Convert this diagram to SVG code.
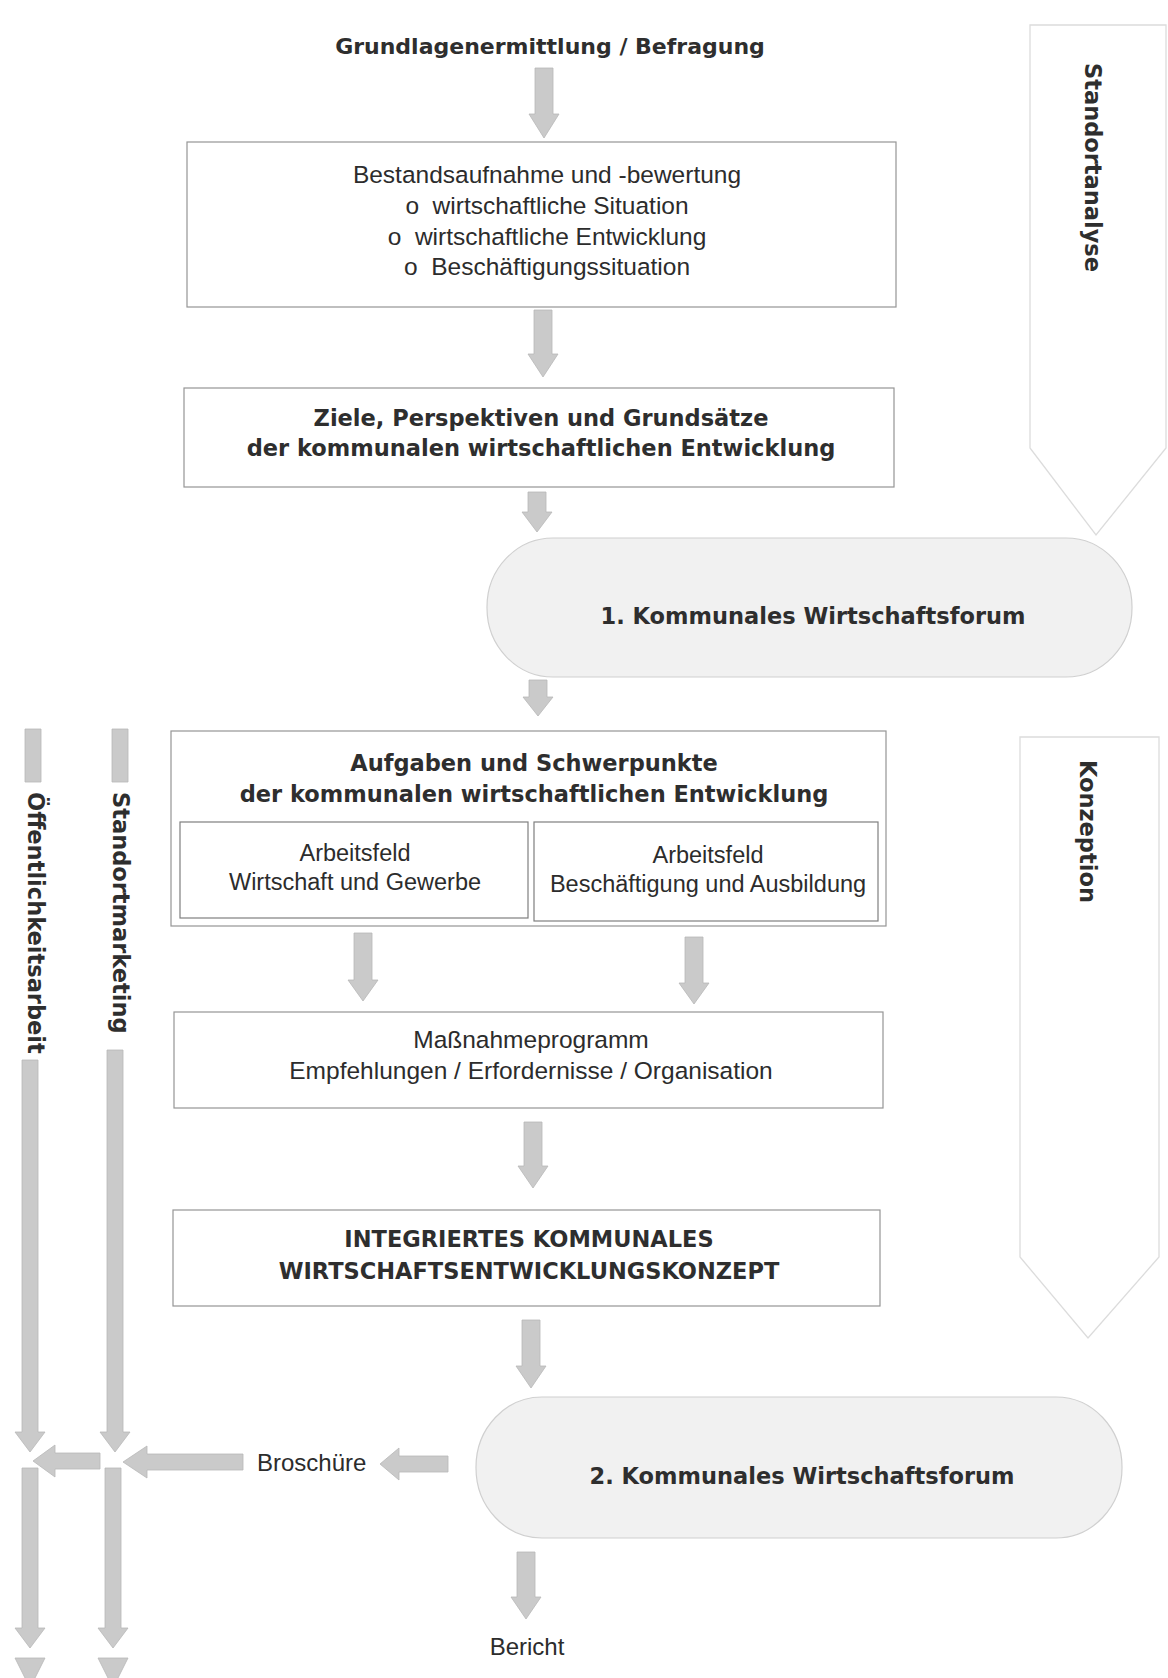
<svg xmlns="http://www.w3.org/2000/svg" width="1168" height="1678" viewBox="0 0 1168 1678">
<style>
.b{font-family:"DejaVu Sans","Liberation Sans",sans-serif;font-weight:bold;font-size:22.5px;fill:#2e2e2e}
.r{font-family:"Liberation Sans","Noto Sans",sans-serif;font-size:24.5px;fill:#2c2c2c}
.rs{font-family:"Liberation Sans","Noto Sans",sans-serif;font-size:23.5px;fill:#2c2c2c}
.c{text-anchor:middle}
.box{fill:#fff;stroke:#959595;stroke-width:1.2}
.inner{fill:#fff;stroke:#7f7f7f;stroke-width:1.2}
.pill{fill:#f1f1f1;stroke:#d0d0d0;stroke-width:1.2}
.band{fill:#fff;stroke:#dcdcdc;stroke-width:1.3}
.arr{fill:#cacaca;stroke:#b8b8b8;stroke-width:0.8}
</style>
<rect width="1168" height="1678" fill="#fff"/>

<g id="band-standortanalyse">
<polygon class="band" points="1030,25 1166,25 1166,448 1096,535 1030,448"/>
<text class="b" transform="translate(1085,63) rotate(90)">Standortanalyse</text>
</g>
<g id="band-konzeption">
<polygon class="band" points="1020,737 1159,737 1159,1257 1088,1338 1020,1257"/>
<text class="b" transform="translate(1080,760) rotate(90)">Konzeption</text>
</g>

<g id="title">
<text class="b c" x="550" y="54" style="font-size:22px">Grundlagenermittlung / Befragung</text>
</g>

<g id="bestandsaufnahme">
<rect class="box" x="187" y="142" width="709" height="165"/>
<text class="r c" x="547" y="183">Bestandsaufnahme und -bewertung</text>
<text class="r c" x="547" y="214" xml:space="preserve">o  wirtschaftliche Situation</text>
<text class="r c" x="547" y="245" xml:space="preserve">o  wirtschaftliche Entwicklung</text>
<text class="r c" x="547" y="275" xml:space="preserve">o  Beschäftigungssituation</text>
</g>

<g id="ziele">
<rect class="box" x="184" y="388" width="710" height="99"/>
<text class="b c" x="541" y="426">Ziele, Perspektiven und Grundsätze</text>
<text class="b c" x="541" y="456">der kommunalen wirtschaftlichen Entwicklung</text>
</g>

<g id="forum1">
<rect class="pill" x="487" y="538" width="645" height="139" rx="66" ry="69"/>
<text class="b c" x="813" y="624">1. Kommunales Wirtschaftsforum</text>
</g>

<g id="aufgaben">
<rect class="box" x="171" y="731" width="715" height="195"/>
<text class="b c" x="534" y="771">Aufgaben und Schwerpunkte</text>
<text class="b c" x="534" y="802">der kommunalen wirtschaftlichen Entwicklung</text>
</g>
<g id="arbeitsfeld-wirtschaft">
<rect class="inner" x="180" y="822" width="348" height="96"/>
<text class="rs c" x="355" y="861">Arbeitsfeld</text>
<text class="rs c" x="355" y="890">Wirtschaft und Gewerbe</text>
</g>
<g id="arbeitsfeld-beschaeftigung">
<rect class="inner" x="534" y="822" width="344" height="99"/>
<text class="rs c" x="708" y="863">Arbeitsfeld</text>
<text class="rs c" x="708" y="892">Beschäftigung und Ausbildung</text>
</g>

<g id="massnahmeprogramm">
<rect class="box" x="174" y="1012" width="709" height="96"/>
<text class="r c" x="531" y="1048">Maßnahmeprogramm</text>
<text class="r c" x="531" y="1079">Empfehlungen / Erfordernisse / Organisation</text>
</g>

<g id="konzept">
<rect class="box" x="173" y="1210" width="707" height="96"/>
<text class="b c" x="529" y="1247">INTEGRIERTES KOMMUNALES</text>
<text class="b c" x="529" y="1279">WIRTSCHAFTSENTWICKLUNGSKONZEPT</text>
</g>

<g id="forum2">
<rect class="pill" x="476" y="1397" width="646" height="141" rx="66" ry="70"/>
<text class="b c" x="802" y="1484">2. Kommunales Wirtschaftsforum</text>
</g>

<g id="broschuere">
<text class="r" style="font-size:24px" x="257" y="1471">Broschüre</text>
</g>
<g id="bericht">
<text class="r c" style="font-size:24px" x="527" y="1655">Bericht</text>
</g>

<g id="col-oeffentlichkeitsarbeit">
<text class="b" transform="translate(28,792) rotate(90)">Öffentlichkeitsarbeit</text>
</g>
<g id="col-standortmarketing">
<text class="b" transform="translate(113,792) rotate(90)">Standortmarketing</text>
</g>

<g id="connectors">
<polygon class="arr" points="535,68 553,68 553,114 559,114 544,138 529,114 535,114"/>
<polygon class="arr" points="534,310 552,310 552,354 558,354 543,377 528,354 534,354"/>
<polygon class="arr" points="528,492 546,492 546,512 552,512 537,532 522,512 528,512"/>
<polygon class="arr" points="529,680 547,680 547,697 553,697 538,716 523,697 529,697"/>
<polygon class="arr" points="354,933 372,933 372,980 378,980 363,1001 348,980 354,980"/>
<polygon class="arr" points="685,937 703,937 703,983 709,983 694,1004 679,983 685,983"/>
<polygon class="arr" points="524,1122 542,1122 542,1166 548,1166 533,1188 518,1166 524,1166"/>
<polygon class="arr" points="522,1320 540,1320 540,1366 546,1366 531,1388 516,1366 522,1366"/>
<polygon class="arr" points="517,1552 535,1552 535,1597 541,1597 526,1619 511,1597 517,1597"/>

<polygon class="arr" points="25,729 41,729 41,782 25,782"/>
<polygon class="arr" points="22,1060 38,1060 38,1432 45,1432 30,1452 15,1432 22,1432"/>
<polygon class="arr" points="22,1468 38,1468 38,1628 45,1628 30,1648 15,1628 22,1628"/>
<polygon class="arr" points="15,1658 45,1658 30,1688"/>

<polygon class="arr" points="112,729 128,729 128,782 112,782"/>
<polygon class="arr" points="107,1050 123,1050 123,1432 130,1432 115,1452 100,1432 107,1432"/>
<polygon class="arr" points="105,1468 121,1468 121,1628 128,1628 113,1648 98,1628 105,1628"/>
<polygon class="arr" points="98,1658 128,1658 113,1688"/>

<polygon class="arr" points="448,1456 448,1472 399,1472 399,1480 380,1464 399,1448 399,1456"/>
<polygon class="arr" points="243,1454 243,1470 147,1470 147,1478 123,1462 147,1446 147,1454"/>
<polygon class="arr" points="100,1453 100,1469 55,1469 55,1477 33,1461 55,1445 55,1453"/>
</g>
</svg>
